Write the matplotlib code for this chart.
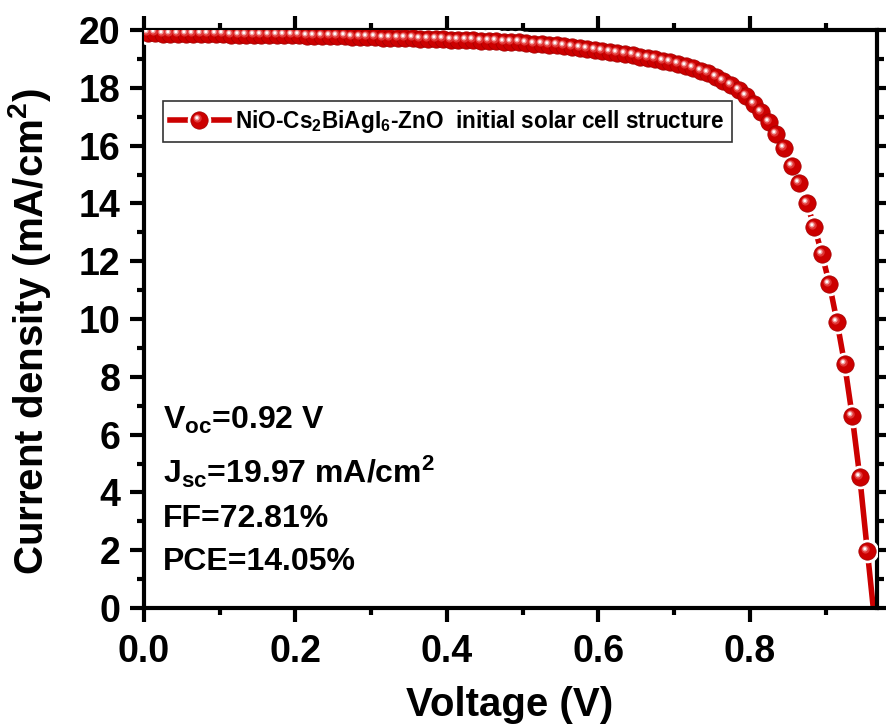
import matplotlib
matplotlib.use("Agg")
import matplotlib.pyplot as plt
from matplotlib.path import Path
from matplotlib.legend_handler import HandlerTuple
from matplotlib.ticker import MultipleLocator, FormatStrFormatter

plt.rcParams["font.family"] = ["Liberation Sans", "DejaVu Sans"]
plt.rcParams["font.weight"] = "bold"
plt.rcParams["mathtext.fontset"] = "custom"
plt.rcParams["mathtext.rm"] = "Liberation Sans:bold"
plt.rcParams["mathtext.it"] = "Liberation Sans:bold"
plt.rcParams["mathtext.bf"] = "Liberation Sans:bold"

# --- data ---
voltage = [
    0.005, 0.015, 0.025, 0.035, 0.045, 0.055, 0.065, 0.075, 0.085, 0.095,
    0.105, 0.115, 0.125, 0.135, 0.145, 0.155, 0.165, 0.175, 0.185, 0.195,
    0.205, 0.215, 0.225, 0.235, 0.245, 0.255, 0.265, 0.275, 0.285, 0.295,
    0.305, 0.315, 0.325, 0.335, 0.345, 0.355, 0.365, 0.375, 0.385, 0.395,
    0.405, 0.415, 0.425, 0.435, 0.445, 0.455, 0.465, 0.475, 0.485, 0.495,
    0.505, 0.515, 0.525, 0.535, 0.545, 0.555, 0.565, 0.575, 0.585, 0.595,
    0.605, 0.615, 0.625, 0.635, 0.645, 0.655, 0.665, 0.675, 0.685, 0.695,
    0.705, 0.715, 0.725, 0.735, 0.745, 0.755, 0.765, 0.775, 0.785, 0.795,
    0.805, 0.815, 0.825, 0.835, 0.845, 0.855, 0.865, 0.875, 0.885, 0.895,
    0.905, 0.915, 0.925, 0.935, 0.945, 0.955, 0.965,
]
current = [
    19.88, 19.88, 19.87, 19.87, 19.87, 19.86, 19.86, 19.86, 19.85, 19.85,
    19.85, 19.84, 19.84, 19.84, 19.83, 19.83, 19.83, 19.82, 19.82, 19.81,
    19.81, 19.80, 19.80, 19.79, 19.79, 19.78, 19.78, 19.77, 19.76, 19.76,
    19.75, 19.74, 19.74, 19.73, 19.72, 19.71, 19.70, 19.70, 19.69, 19.68,
    19.67, 19.66, 19.65, 19.64, 19.63, 19.62, 19.61, 19.60, 19.58, 19.57,
    19.55, 19.53, 19.51, 19.49, 19.47, 19.45, 19.42, 19.39, 19.35, 19.31,
    19.28, 19.24, 19.19, 19.16, 19.12, 19.08, 19.04, 19.00, 18.94, 18.88,
    18.81, 18.75, 18.67, 18.59, 18.50, 18.38, 18.25, 18.11, 17.92, 17.72,
    17.44, 17.17, 16.83, 16.40, 15.92, 15.29, 14.70, 14.00, 13.20, 12.25,
    11.20, 9.90, 8.44, 6.64, 4.53, 1.97, -0.55,
]

legend_label = r"NiO-Cs$_2$BiAgI$_6$-ZnO  initial solar cell structure"
params = [r"V$_{oc}$=0.92 V", r"J$_{sc}$=19.97 mA/cm$^2$", "FF=72.81%", "PCE=14.05%"]
param_y = [6.19, 4.33, 2.80, 1.31]

RED = "#cc0000"
MS = 12.5


def spot(cx, cy, r):
    # circle marker offset from the symbol centre (for the sphere highlight)
    c = Path.circle((cx, cy), r)
    m = max(abs(cx), abs(cy)) + r
    return c, 2 * m


fig = plt.figure(figsize=(8.87, 7.28), dpi=100)
ax = fig.add_axes([0.1623, 0.1648, 0.8264, 0.794])

line, = ax.plot(voltage, current, color=RED, lw=4, zorder=2)
halo, = ax.plot(voltage, current, ls="none", marker="o", ms=MS + 3.5,
                mfc="white", mec="white", zorder=3)
ball, = ax.plot(voltage, current, ls="none", marker="o", ms=MS,
                mfc=RED, mec="#a00000", mew=0.5, zorder=4)
handles = [line, halo, ball]
for (cx, cy, r), col in [((-1.4, 1.5, 3.0), "#e03535"),
                         ((-1.8, 1.9, 1.9), "#f2a0a0"),
                         ((-1.9, 2.0, 1.0), "white")]:
    p, size = spot(cx, cy, r)
    h, = ax.plot(voltage, current, ls="none", marker=p, ms=size,
                 mfc=col, mec="none", zorder=5)
    handles.append(h)

ax.set_xlim(0, 0.9677)
ax.set_ylim(0, 20)
ax.xaxis.set_major_locator(MultipleLocator(0.2))
ax.xaxis.set_minor_locator(MultipleLocator(0.1))
ax.xaxis.set_major_formatter(FormatStrFormatter("%.1f"))
ax.yaxis.set_major_locator(MultipleLocator(2))
ax.yaxis.set_minor_locator(MultipleLocator(1))

for s in ax.spines.values():
    s.set_linewidth(3)
ax.tick_params(which="both", direction="out", top=True, right=True, width=3)
ax.tick_params(which="major", length=10, labelsize=27)
ax.tick_params(which="minor", length=5)
ax.tick_params(axis="x", pad=9)
ax.tick_params(axis="y", pad=7)

fig.text(0.575, 0.005, "Voltage (V)", fontsize=29, ha="center", va="bottom")
fig.text(0.033, 0.545, r"Current density (mA/cm$^2$)", fontsize=29,
         rotation=90, ha="center", va="center")

for txt, yv in zip(params, param_y):
    ax.text(0.026, yv, txt, fontsize=23, transform=ax.get_yaxis_transform(),
            va="baseline", ha="left")

leg = ax.legend([tuple(handles)], [legend_label],
                handler_map={tuple: HandlerTuple(ndivide=1, pad=0)},
                loc="upper left", bbox_to_anchor=(0.026, 0.877), fontsize=16.3,
                frameon=True, fancybox=False, edgecolor="black", borderpad=0.3,
                handlelength=2.6, handletextpad=0.3, borderaxespad=0)
leg.get_frame().set_linewidth(1.2)

fig.savefig("out.png", dpi=100)
